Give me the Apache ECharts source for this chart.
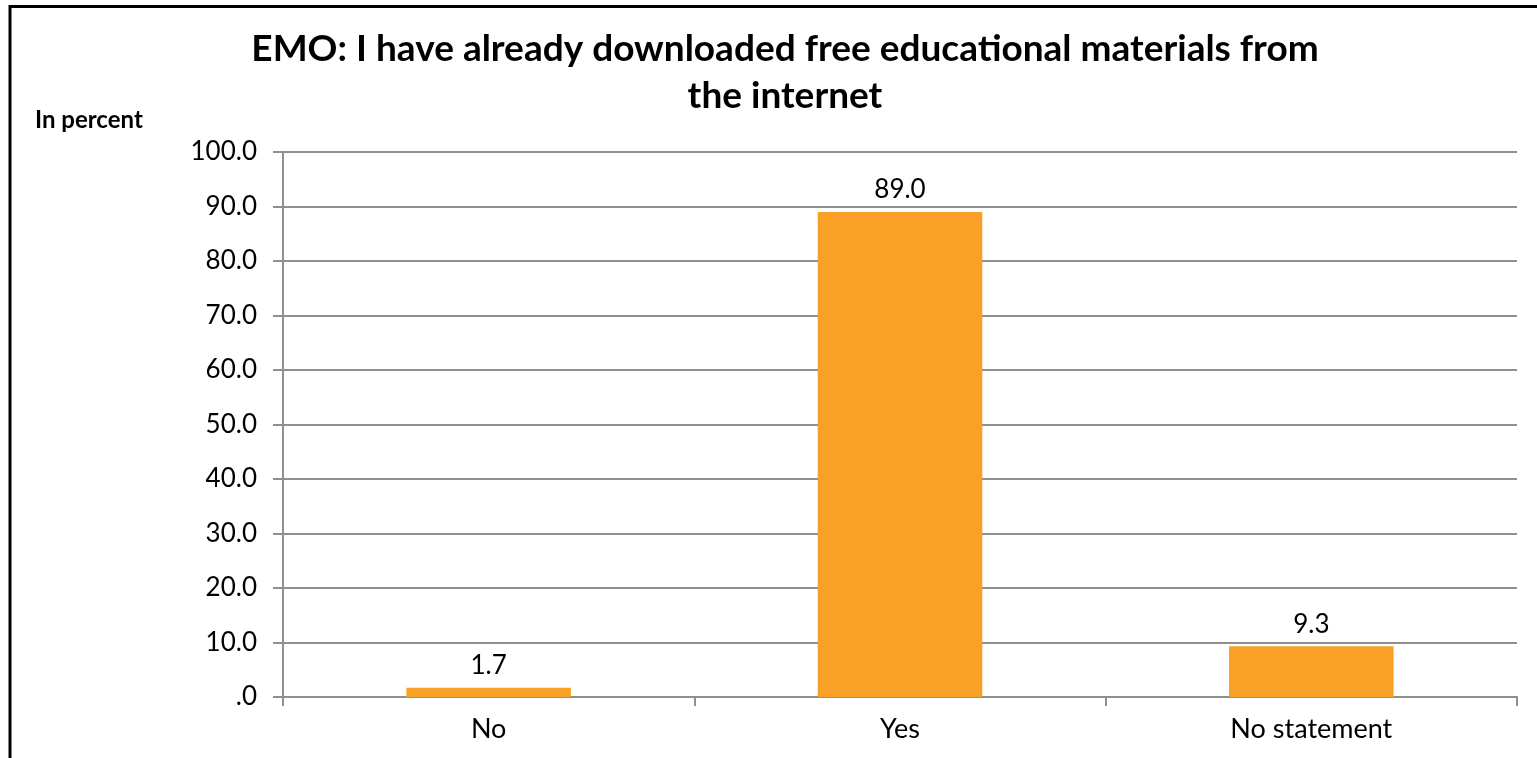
<!DOCTYPE html>
<html>
<head>
<meta charset="utf-8">
<script src="https://cdn.jsdelivr.net/npm/echarts@6/dist/echarts.min.js"></script>
<style>
  html, body { margin: 0; padding: 0; background: #fff; }
  #chart { width: 1537px; height: 758px; }
</style>
</head>
<body>
<div id="chart"></div>
<script>
// Survey answers and their shares (percent)
const categories = ['No', 'Yes', 'No statement'];
const shares = [1.7, 89.0, 9.3];
const titleLines = ['EMO: I have already downloaded free educational materials from', 'the internet'];
const unitLabel = 'In percent';

const FONT = 'Lato, "Noto Sans", sans-serif';
const GRID_GRAY = '#8f8f8f';

const chart = echarts.init(document.getElementById('chart'), null, { renderer: 'canvas' });

chart.setOption({
  backgroundColor: '#ffffff',
  animation: false,
  title: {
    text: titleLines.join('\n'),
    left: 780,
    top: 21,
    textAlign: 'center',
    textStyle: {
      fontFamily: FONT,
      fontWeight: 'bold',
      fontSize: 37,
      lineHeight: 47,
      color: '#000'
    }
  },
  graphic: [
    // frame around the chart (top and left edges)
    { type: 'line', shape: { x1: 10, y1: 6.5, x2: 1537, y2: 6.5 }, style: { stroke: '#000', lineWidth: 3 } },
    { type: 'line', shape: { x1: 10, y1: 5, x2: 10, y2: 758 }, style: { stroke: '#000', lineWidth: 3 } },
    {
      type: 'text', left: 35, top: 108,
      style: { text: unitLabel, font: 'bold 24px ' + FONT, fill: '#000' }
    }
  ],
  grid: { left: 283, right: 20, top: 152, bottom: 61, containLabel: false },
  xAxis: {
    type: 'category',
    data: categories,
    axisLine: { show: true, lineStyle: { color: GRID_GRAY, width: 2 } },
    axisTick: { show: true, length: 9, lineStyle: { color: GRID_GRAY, width: 2 } },
    axisLabel: { color: '#000', fontFamily: FONT, fontSize: 27, margin: 19 }
  },
  yAxis: {
    type: 'value',
    min: 0,
    max: 100,
    interval: 10,
    axisLine: { show: true, lineStyle: { color: GRID_GRAY, width: 2 } },
    axisTick: { show: true, length: 10, lineStyle: { color: GRID_GRAY, width: 2 } },
    splitLine: { show: true, lineStyle: { color: GRID_GRAY, width: 2 } },
    axisLabel: {
      color: '#000', fontFamily: FONT, fontSize: 26, margin: 26,
      formatter: v => (v === 0 ? '.0' : v.toFixed(1))
    }
  },
  series: [{
    type: 'bar',
    data: shares,
    barWidth: '40%',
    itemStyle: { color: '#F9A126' },
    label: {
      show: true,
      position: 'top',
      distance: 9,
      color: '#000',
      fontFamily: FONT,
      fontSize: 26,
      formatter: p => p.value.toFixed(1)
    }
  }]
});
</script>
</body>
</html>
